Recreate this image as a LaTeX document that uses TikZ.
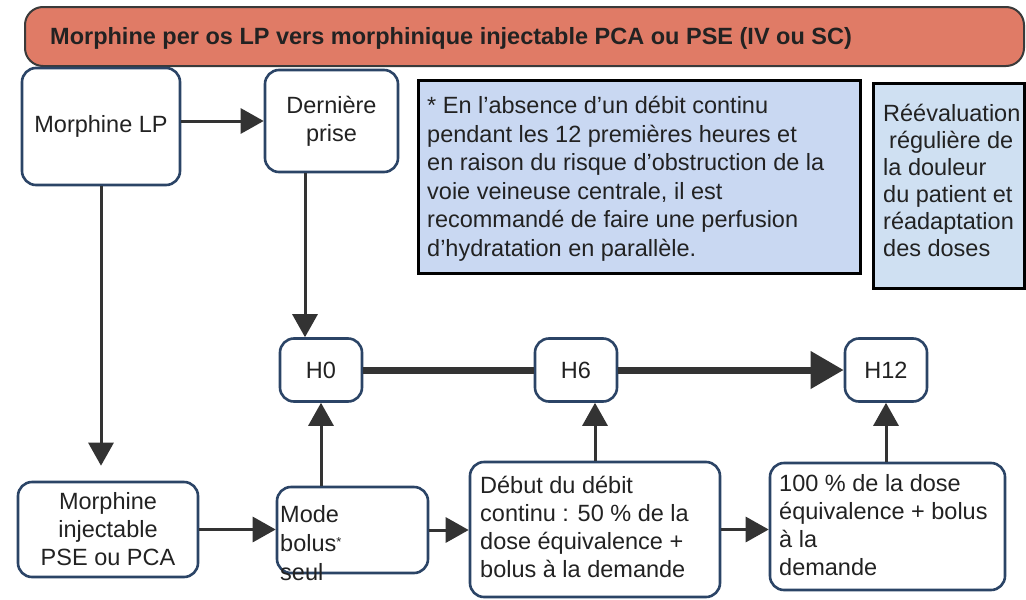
\documentclass[tikz,border=0pt]{standalone}
\usepackage{fontspec}
\setmainfont{Liberation Sans}
\usetikzlibrary{arrows.meta}
\definecolor{boxc}{HTML}{2B4466}
\definecolor{titlefill}{HTML}{E07B66}
\definecolor{titledraw}{HTML}{3A3A3A}
\definecolor{notefill}{HTML}{C9D8F2}
\definecolor{revfill}{HTML}{CFE0F2}
\definecolor{txt}{HTML}{222222}
\definecolor{arr}{HTML}{333333}
\begin{document}
\begin{tikzpicture}[x=1pt,y=-1pt,
  every node/.style={font=\fontsize{23.5}{28}\selectfont, text=txt},
  rbox/.style={draw=boxc, line width=2.6pt, rounded corners=14pt, fill=white, inner sep=0pt},
  lbl/.style={inner sep=0pt, align=left, anchor=north west},
  arw/.style={draw=arr, line width=3pt, -{Triangle[length=23pt,width=25pt]}},
  tl/.style={draw=arr, line width=7pt},
  tla/.style={tl, -{Triangle[length=33pt,width=36pt]}}
]
\useasboundingbox (0,0) rectangle (1026,600);
\fill[white] (0,0) rectangle (1026,600);

% title
\node[draw=titledraw, line width=2pt, fill=titlefill, rounded corners=18pt,
      minimum width=999pt, minimum height=59pt, inner sep=0pt] (title) at (524.5,36.5) {};
\node[inner sep=0pt, anchor=west, font=\bfseries\fontsize{23.5}{28}\selectfont] (titlet) at (50,38)
  {Morphine per os LP vers morphinique injectable PCA ou PSE (IV ou SC)};

% top row
\node[rbox, minimum width=158pt, minimum height=117pt] (mlp) at (101,126.5) {Morphine LP};
\node[rbox, minimum width=133pt, minimum height=102pt, align=center] (dp) at (331.5,121) {Dernière\\prise};

\node[draw=black, line width=3pt, fill=notefill, minimum width=442pt, minimum height=193pt, inner sep=0pt] (note) at (639,176.5) {};
\node[lbl, font=\fontsize{23.5}{28.6}\selectfont] (notet) at (427,96)
  {* En l’absence d’un débit continu\\pendant les 12 premières heures et\\en raison du risque d’obstruction de la\\voie veineuse centrale, il est\\recommandé de faire une perfusion\\d’hydratation en parallèle.};

\node[draw=black, line width=3pt, fill=revfill, minimum width=151pt, minimum height=205pt, inner sep=0pt] (rev) at (948.5,185.5) {};
\node[lbl, font=\fontsize{23.5}{27}\selectfont] (revt) at (883,104)
  {Réévaluation\\\hspace*{6pt}régulière de\\la douleur\\du patient et\\réadaptation\\des doses};

% time line
\node[rbox, minimum width=82pt, minimum height=63pt] (h0) at (321,370) {H0};
\node[rbox, minimum width=82pt, minimum height=63pt] (h6) at (576,370) {H6};
\node[rbox, minimum width=82pt, minimum height=63pt] (h12) at (886,370) {H12};

% bottom row
\node[rbox, minimum width=180pt, minimum height=95pt, align=center] (minj) at (108,529.5) {Morphine\\injectable\\PSE ou PCA};
\node[rbox, minimum width=151pt, minimum height=86pt] (mb) at (352.5,530) {};
\node[lbl, font=\fontsize{23.5}{29}\selectfont] (mbt) at (280,505) {Mode\\bolus\raisebox{5pt}{\fontsize{13}{13}\selectfont *}\\seul};
\node[rbox, minimum width=250pt, minimum height=135pt] (deb) at (595,529.5) {};
\node[lbl] (debt) at (480,476) {Début du débit\\continu : 50 \% de la\\dose équivalence +\\bolus à la demande};
\node[rbox, minimum width=235pt, minimum height=127pt] (cent) at (887.5,526.5) {};
\node[lbl] (centt) at (779,474) {100 \% de la dose\\équivalence + bolus\\à la\\demande};

% connectors
\draw[arw] (mlp.east |- dp.west) -- (dp.west);
\draw[arw, shorten >=15pt] (mlp.south) -- (minj.north -| mlp.south);
\draw[arw] ([xshift=-16pt]h0.north |- dp.south) -- ([xshift=-16pt]h0.north);
\draw[arw] (mb.north -| h0.south) -- (h0.south);
\draw[arw] (minj.east) -- (minj.east -| mb.west);
\draw[arw] (mb.east) -- (mb.east -| deb.west);
\draw[arw] (deb.north) -- (deb.north |- h6.south);
\draw[arw] (deb.east) -- (deb.east -| cent.west);
\draw[arw] (cent.north -| h12.south) -- (h12.south);
\draw[tl] (h0.east) -- (h6.west);
\draw[tla] (h6.east) -- (h12.west);
\end{tikzpicture}
\end{document}
